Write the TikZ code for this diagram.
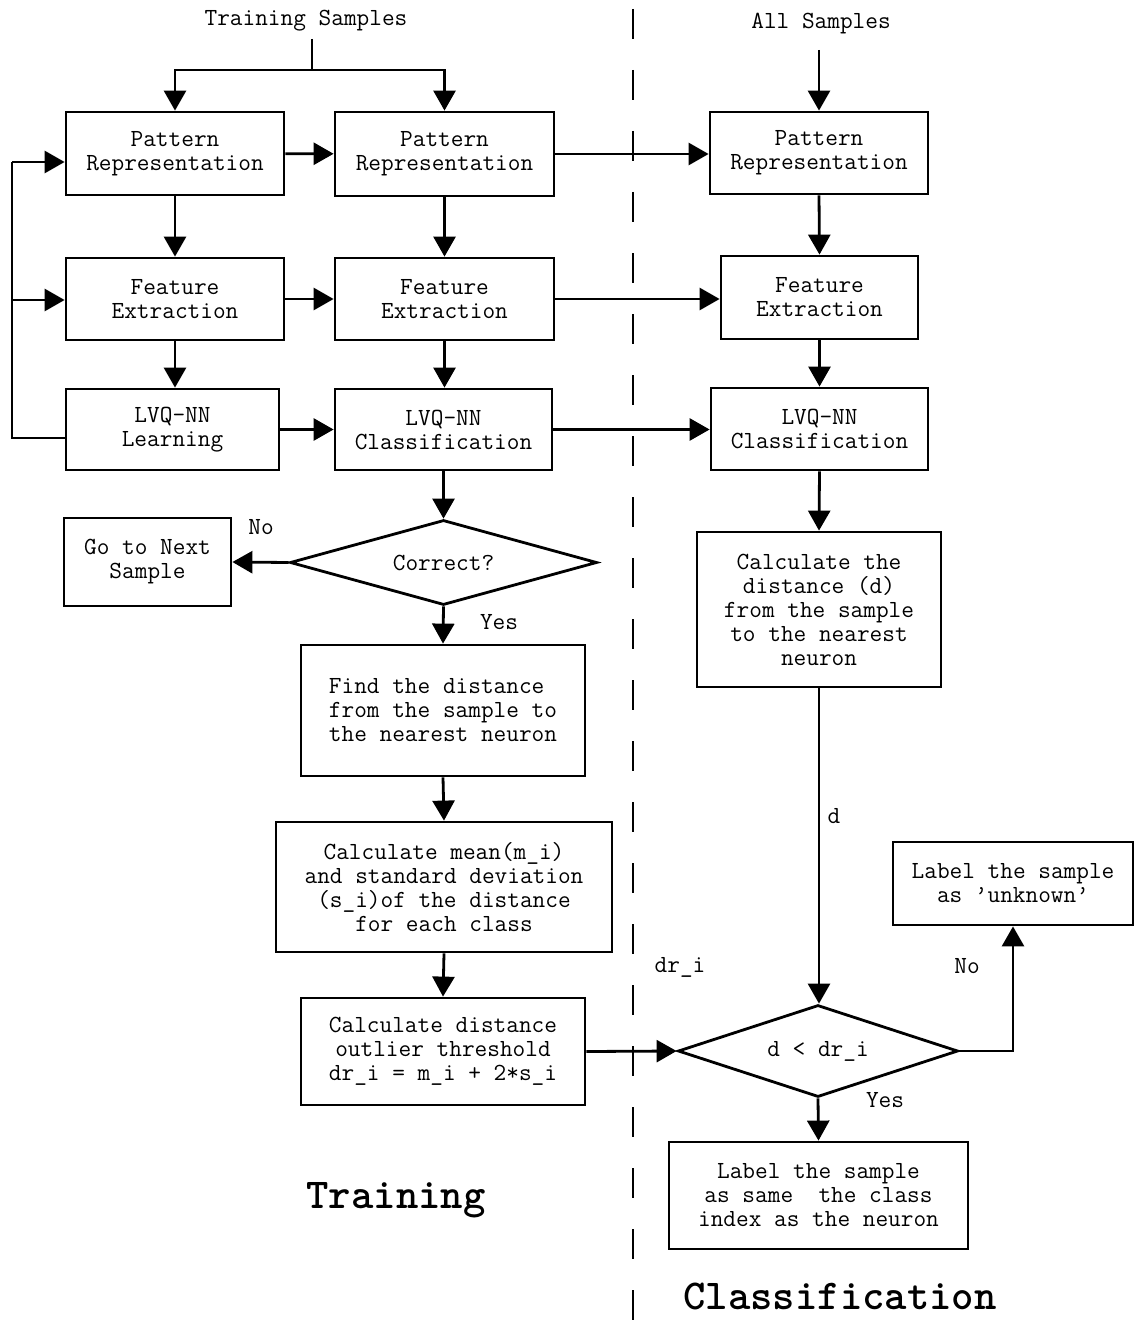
\documentclass[tikz,border=0pt]{standalone}
\usepackage{fontspec}
\usetikzlibrary{arrows.meta,shapes.geometric}

\begin{document}
\begin{tikzpicture}[
		x=0.5pt, y=-0.5pt,
		font=\ttfamily\fontsize{12.3}{12}\selectfont,
		arrow/.style={-{Triangle[length=10pt,width=11pt]}, line width=1.4pt},
		link/.style={line width=1.4pt},
		block/.style={rectangle, draw, line width=1.4pt, inner sep=0pt, align=center},
		decision/.style={diamond, draw, line width=1.4pt, inner sep=0pt, aspect=3.5},
		title/.style={font=\ttfamily\bfseries\fontsize{21.3}{22}\selectfont}
		]
		
		\path[use as bounding box, fill=white] (0,0) rectangle (1135,1321);
		
		% ---- Inputs ----
		\node (train) at (306,21) {Training Samples};
		\node (all)   at (821,24) {All Samples};
		\coordinate (trainTop) at (312,39);
		\coordinate (split)    at (312,70);
		\coordinate (allTop)   at (819,50);
		
		% ---- Column 1: learning pass ----
		\node[block, minimum width=109pt, minimum height=41.5pt] (pr1)  at (175,153.5) {Pattern\\Representation};
		\node[block, minimum width=109pt, minimum height=41pt]   (fe1)  at (175,299)   {Feature\\Extraction};
		\node[block, minimum width=106.5pt, minimum height=40.5pt] (lvq1) at (172.5,429.5) {LVQ-NN\\Learning};
		
		% ---- Column 2: training check ----
		\node[block, minimum width=109.5pt, minimum height=42pt] (pr2)  at (444.5,154) {Pattern\\Representation};
		\node[block, minimum width=109.5pt, minimum height=41pt] (fe2)  at (444.5,299) {Feature\\Extraction};
		\node[block, minimum width=108.5pt, minimum height=40.5pt] (lvq2) at (443.5,429.5) {LVQ-NN\\Classification};
		\node[decision, minimum width=153.5pt, minimum height=42.5pt] (correct) at (443.5,562.5) {Correct?};
		\node[block, minimum width=83.5pt, minimum height=44pt] (next) at (147.5,562) {Go to Next\\Sample};
		\node[block, align=left, minimum width=142pt, minimum height=65.5pt] (find) at (443,710.5)
		{Find the distance\\from the sample to\\the nearest neuron};
		\node[block, minimum width=168pt, minimum height=65pt] (mean) at (444,887)
		{Calculate mean(m\_i)\\and standard deviation\\(s\_i)of the distance\\for each class};
		\node[block, minimum width=142pt, minimum height=53.5pt] (thresh) at (443,1051.5)
		{Calculate distance\\outlier threshold\\dr\_i = m\_i + 2*s\_i};
		
		% ---- Column 3: classification ----
		\node[block, minimum width=109pt, minimum height=41pt]   (pr3)  at (819,153)   {Pattern\\Representation};
		\node[block, minimum width=98.5pt, minimum height=41.5pt] (fe3)  at (819.5,297.5) {Feature\\Extraction};
		\node[block, minimum width=108.5pt, minimum height=41pt] (lvq3) at (819.5,429) {LVQ-NN\\Classification};
		\node[block, minimum width=122pt, minimum height=77.5pt] (calcd) at (819,609.5)
		{Calculate the\\distance (d)\\from the sample\\to the nearest\\neuron};
		\node[decision, minimum width=140pt, minimum height=46pt] (check) at (818,1051) {d < dr\_i};
		\node[block, minimum width=120pt, minimum height=41.5pt] (unknown) at (1013,883.5)
		{Label the sample\\as ’unknown’};
		\node[block, minimum width=149.5pt, minimum height=53.5pt] (same) at (818.5,1195.5)
		{Label the sample\\as same\ \ the class\\index as the neuron};
		
		% ---- Labels ----
		\node at (261,527)  {No};
		\node at (499,622)  {Yes};
		\node at (834,816)  {d};
		\node at (680,967)  {dr\_i};
		\node at (967,966)  {No};
		\node at (885,1100) {Yes};
		\node[title] (tTrain) at (396,1200) {Training};
		\node[title] (tClass) at (840,1296) {Classification};
		
		% ---- Separator ----
		\draw[line width=1.3pt, dash pattern=on 15pt off 15.5pt] (633,9) -- (633,1321);
		
		% ---- Arrows: inputs ----
		\draw[link] (trainTop) -- (split);
		\draw[arrow] (split) -| (pr1.north);
		\draw[arrow] (split) -| (pr2.north);
		\draw[arrow] (allTop) -- (pr3.north);
		
		% ---- Arrows: columns ----
		\draw[arrow] (pr1.south) -- (fe1.north);
		\draw[arrow] (fe1.south) -- (fe1.south |- lvq1.north);
		\draw[arrow] (pr2.south) -- (pr2.south |- fe2.north);
		\draw[arrow] (fe2.south) -- (fe2.south |- lvq2.north);
		\draw[arrow] (pr3.south) -- (fe3.north);
		\draw[arrow] (fe3.south) -- (lvq3.north);
		
		% ---- Arrows: rows ----
		\draw[arrow] (pr1) -- (pr2);
		\draw[arrow] (fe1) -- (fe2);
		\draw[arrow] (lvq1) -- (lvq2);
		\draw[arrow] (pr2.east) -- (pr2.east -| pr3.west);
		\draw[arrow] (fe2.east) -- (fe2.east -| fe3.west);
		\draw[arrow] (lvq2.east) -- (lvq2.east -| lvq3.west);
		
		% ---- Feedback loop ----
		\coordinate (loopBot) at (12,438);
		\coordinate (loopMid) at (12,300);
		\coordinate (loopTop) at (12,162);
		\draw[link] (lvq1.west |- loopBot) -- (loopBot) -- (loopTop);
		\draw[arrow] (loopTop) -- (loopTop -| pr1.west);
		\draw[arrow] (loopMid) -- (loopMid -| fe1.west);
		
		% ---- Training chain ----
		\draw[arrow] (lvq2.south) -- (correct.north);
		\draw[arrow] (correct.west) -- (next.east);
		\draw[arrow] (correct.south) -- (find.north);
		\draw[arrow] (find.south) -- (mean.north);
		\draw[arrow] (mean.south) -- (thresh.north);
		\draw[arrow] (thresh.east) -- (check.west);
		
		% ---- Classification chain ----
		\draw[arrow] (lvq3.south) -- (calcd.north);
		\draw[arrow] (calcd.south) -- (calcd.south |- check.north);
		\draw[arrow] (check.east) -| (unknown.south);
		\draw[arrow] (check.south) -- (same.north);
	\end{tikzpicture}
\end{document}
